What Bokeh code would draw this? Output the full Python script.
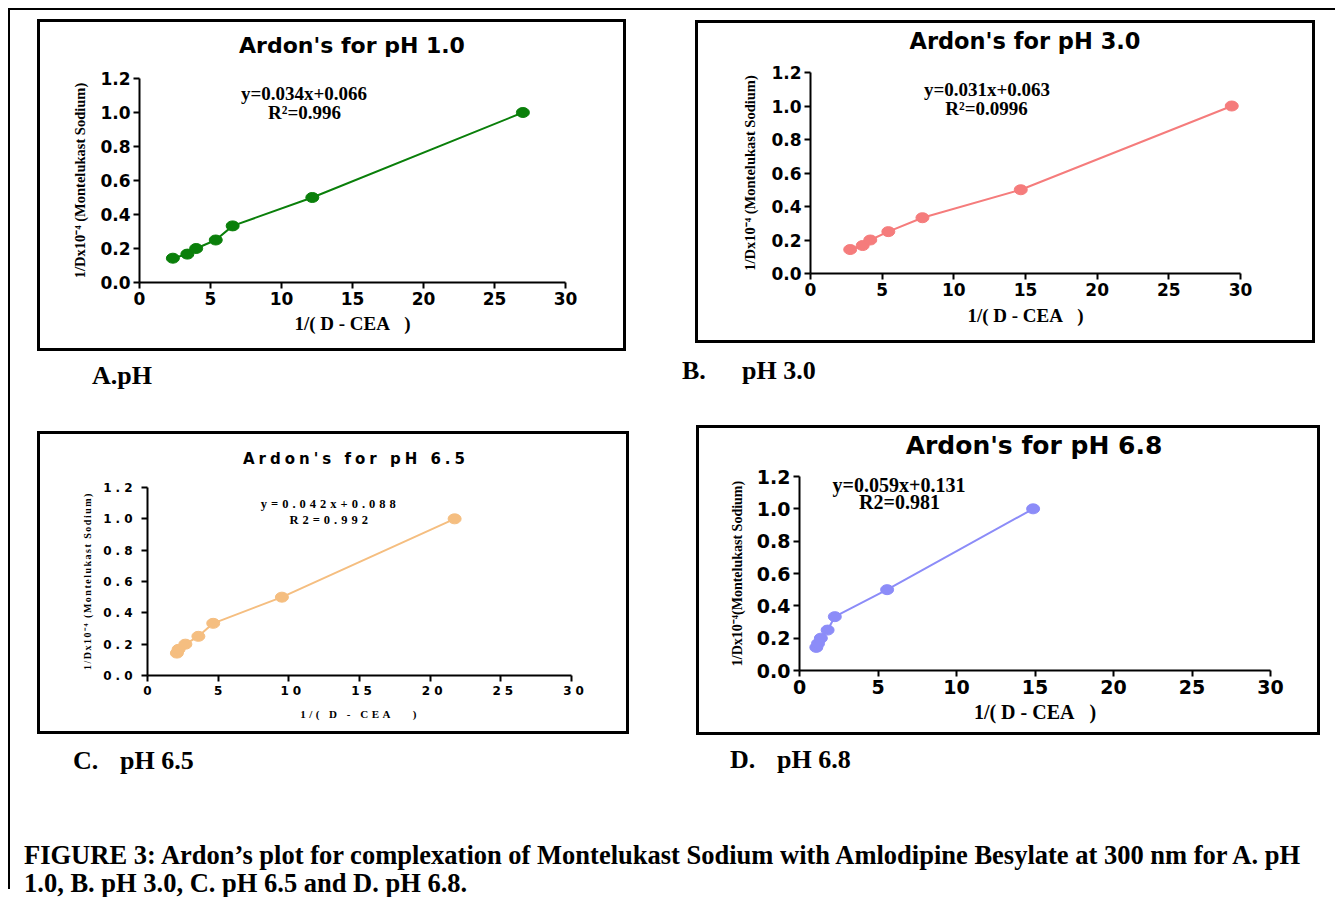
from bokeh.plotting import figure
from bokeh.layouts import column, row
from bokeh.models import Spacer, Div, Range1d, FixedTicker, PrintfTickFormatter, Label
from bokeh.embed import file_html
from bokeh.resources import INLINE

# ---------------- data ----------------
y_inv_d = [0.143, 0.167, 0.2, 0.25, 0.333, 0.5, 1.0]        # 1/D x10^-4 (Montelukast Sodium)
x_ph10 = [2.35, 3.37, 3.99, 5.37, 6.56, 12.17, 27.0]          # 1/(D - CEA), pH 1.0
x_ph30 = [2.77, 3.64, 4.17, 5.43, 7.81, 14.67, 29.39]         # pH 3.0
x_ph65 = [2.08, 2.20, 2.68, 3.60, 4.65, 9.51, 21.73]          # pH 6.5
x_ph68 = [1.07, 1.18, 1.36, 1.79, 2.25, 5.58, 14.88]          # pH 6.8
x_ticks = [0, 5, 10, 15, 20, 25, 30]
y_ticks = [0.0, 0.2, 0.4, 0.6, 0.8, 1.0, 1.2]
titles = ["Ardon's for pH 1.0", "Ardon's for pH 3.0", "Ardon's for pH 6.5", "Ardon's for pH 6.8"]
eq_line1 = ["y=0.034x+0.066", "y=0.031x+0.063", "y=0.042x+0.088", "y=0.059x+0.131"]
eq_line2 = ["R\u00b2=0.996", "R\u00b2=0.0996", "R2=0.992", "R2=0.981"]
y_labels = ["1/Dx10\u207b\u2074 (Montelukast Sodium)", "1/Dx10\u207b\u2074 (Montelukast Sodium)",
            "1/Dx10\u207b\u2074 (Montelukast Sodium)", "1/Dx10\u207b\u2074(Montelukast Sodium)"]
x_label = "1/( D - CEA\u00a0\u00a0\u00a0)"
colors = ["#0a7f0a", "#f57c7c", "#f5be80", "#8c8cf8"]
sub_labels = [[("A.pH", 55)], [("B.", 0), ("pH 3.0", 60)], [("C.", 36), ("pH 6.5", 83)], [("D.", 48), ("pH 6.8", 95)]]
caption_lines = ["FIGURE 3: Ardon\u2019s plot for complexation of Montelukast Sodium with Amlodipine Besylate at 300 nm for A. pH",
                 "1.0, B. pH 3.0, C. pH 6.5 and D. pH 6.8."]

SANS = "DejaVu Sans"
SERIF = "Liberation Serif"
Z = (0, 0, 0, 0)
BOX = {"border": "3px solid black", "box-sizing": "content-box", "background-color": "white"}


def text_div(w, h, t, cx, cy, font, size, ls=0.0, rotate=False):
    """A Div of w x h with one text centred at (cx, cy) inside it."""
    tr = "translate(-50%,-50%)" + (" rotate(-90deg)" if rotate else "")
    html = (f'<div style="position:relative;width:{w}px;height:{h}px;">'
            f'<span style="position:absolute;left:{cx}px;top:{cy}px;transform:{tr};white-space:nowrap;'
            f'font-family:\'{font}\';font-weight:bold;font-size:{size}px;line-height:{round(size * 1.2)}px;'
            f'letter-spacing:{ls}px;color:#000">{t}</span></div>')
    return Div(text=html, width=w, height=h, margin=Z)


def chart(i, xs, w, h, frame_px, borders, st, ls=0.0, with_axis_labels=True):
    fl, fr, ft, fb = frame_px
    fw, fh = fr - fl, fb - ft

    def dx(px):
        return (px - fl) / fw * 30.0

    def dy(py):
        return (fb - py) / fh * 1.2

    bl, br, bt, bb = borders
    p = figure(width=w, height=h, output_backend="svg", toolbar_location=None,
               x_range=Range1d(0, 30), y_range=Range1d(0, 1.2), title=None,
               min_border_left=bl, min_border_right=br, min_border_top=bt, min_border_bottom=bb,
               margin=Z)
    if ls:
        p.styles = {"letter-spacing": f"{ls}px"}
    p.outline_line_color = None
    p.grid.visible = False
    p.background_fill_color = "white"
    p.border_fill_color = "white"
    for ax in (p.xaxis[0], p.yaxis[0]):
        ax.axis_line_width = 2
        ax.axis_line_color = "black"
        ax.major_tick_in = 0
        ax.major_tick_out = 6
        ax.major_tick_line_width = 2
        ax.minor_tick_line_color = None
        ax.major_label_text_font = SANS
        ax.major_label_text_font_style = "bold"
        ax.major_label_text_font_size = st["tick"]
        ax.major_label_text_color = "black"
        ax.axis_label_text_font = SERIF
        ax.axis_label_text_font_style = "bold"
        ax.axis_label_text_color = "black"
    p.xaxis.ticker = FixedTicker(ticks=x_ticks)
    p.yaxis.ticker = FixedTicker(ticks=y_ticks)
    p.yaxis.formatter = PrintfTickFormatter(format="%.1f")
    p.xaxis.major_label_standoff = st["xstd"]
    p.yaxis.major_label_standoff = st["ystd"]
    if with_axis_labels:
        p.xaxis.axis_label = x_label
        p.yaxis.axis_label = y_labels[i]
        p.xaxis.axis_label_text_font_size = st["xlab"]
        p.yaxis.axis_label_text_font_size = st["ylab"]
        p.xaxis.axis_label_standoff = st["xlstd"]
        p.yaxis.axis_label_standoff = st["ylstd"]

    # letter-spacing is unknown to Bokeh's text measurement: shift centred texts back
    def comp(t):
        return (len(t) - 1) * ls / 2.0

    (e1x, e1y), (e2x, e2y) = st["eq_pos"]
    for t, ex, ey in ((eq_line1[i], e1x, e1y), (eq_line2[i], e2x, e2y)):
        p.add_layout(Label(x=dx(ex - comp(t)), y=dy(ey), text=t, text_align="center", text_baseline="middle",
                           text_font=SERIF, text_font_style="bold", text_font_size=st["eq"],
                           text_color="black"))

    p.line(xs, y_inv_d, line_color=colors[i], line_width=2)
    p.ellipse(xs, y_inv_d, width=st["mw"], height=st["mh"], width_units="screen", height_units="screen",
              fill_color=colors[i], line_color=colors[i])
    return p


# ---- A : box 37..626 x 19..351 (inner 40..623 x 22..348)
stA = dict(tick="17px", xlab="19px", ylab="14.5px", xstd=3, ystd=3, xlstd=5, ylstd=9,
           eq="19px", mw=13, mh=10, eq_pos=((303.5, 93), (304, 112)))
tA = text_div(583, 40, titles[0], 352 - 40, 46 - 22, SANS, 22)
figA = chart(0, x_ph10, 583, 286, (139, 565, 78, 282), (99, 58, 16, 66), stA)
boxA = column(tA, figA, margin=Z, styles=BOX)

# ---- B : box 695..1315 x 20..343 (inner 698..1312 x 23..340)
stB = dict(stA)
stB.update(xlstd=6, ylstd=10, eq_pos=((986.5, 89), (986, 108)))
tB = text_div(614, 36, titles[1], 1025 - 698, 41 - 23, SANS, 22.5)
figB = chart(1, x_ph30, 614, 281, (810, 1240, 72, 273), (112, 72, 13, 67), stB)
boxB = column(tB, figB, margin=Z, styles=BOX)

# ---- C : box 37..629 x 431..734 (inner 40..626 x 434..731)
stC = dict(tick="12px", xstd=4, ystd=17, eq="12.5px", mw=13, mh=10, eq_pos=((326.5, 503), (327, 519)))
yC = text_div(60, 297, y_labels[2], 88 - 40, 581 - 434, SERIF, 10, ls=1.5, rotate=True)
tC = text_div(526, 38, titles[2], 356 - 100, 459 - 434, SANS, 15, ls=4)
figC = chart(2, x_ph65, 526, 230, (145, 571, 487, 675), (45, 55, 15, 27), stC, ls=4, with_axis_labels=False)
xC = text_div(526, 29, x_label, 360 - 100, 714 - 702, SERIF, 11, ls=3.5)
boxC = row(yC, column(tC, figC, xC, margin=Z), margin=Z, styles=BOX)

# ---- D : box 696..1320 x 425..735 (inner 699..1317 x 428..732)
stD = dict(stA)
stD.update(tick="19px", xlab="20px", ylab="14px", xlstd=4, ylstd=9, eq="20px",
           eq_pos=((898.5, 484), (899, 501)))
tD = text_div(618, 34, titles[3], 1034 - 699, 446 - 428, SANS, 25)
figD = chart(3, x_ph68, 618, 270, (799, 1270, 476, 670), (100, 47, 14, 62), stD)
boxD = column(tD, figD, margin=Z, styles=BOX)


def sublabel(w, h, parts, top):
    spans = "".join(
        f'<span style="position:absolute;left:{x}px;top:{top}px;white-space:nowrap">{t}</span>'
        for t, x in parts)
    html = (f'<div style="position:relative;width:{w}px;height:{h}px;font-family:\'{SERIF}\',serif;'
            f'font-weight:bold;font-size:26px;line-height:30px;color:#000">{spans}</div>')
    return Div(text=html, width=w, height=h, margin=Z)


labA = sublabel(592, 80, sub_labels[0], 10)
labC = sublabel(592, 56, sub_labels[2], 12)
labB = sublabel(638, 82, sub_labels[1], 13)
labD = sublabel(638, 55, sub_labels[3], 10)

left_col = column(Spacer(width=592, height=9, margin=Z), boxA, labA, boxC, labC, margin=Z)
right_col = column(Spacer(width=638, height=10, margin=Z),
                   row(Spacer(width=13, height=1, margin=Z), boxB, margin=Z),
                   labB,
                   row(Spacer(width=14, height=1, margin=Z), boxD, margin=Z),
                   labD, margin=Z)
main_row = row(Spacer(width=27, height=1, margin=Z), left_col,
               Spacer(width=53, height=1, margin=Z), right_col,
               Spacer(width=15, height=1, margin=Z), margin=Z)

cap_html = (f'<div style="width:1325px;height:99px;box-sizing:border-box;padding-top:51px;padding-left:14px;'
            f'font-family:\'{SERIF}\',serif;font-weight:bold;font-size:26.5px;line-height:28px;'
            f'white-space:nowrap;color:#000">' + "<br>".join(caption_lines) + '</div>')
caption = Div(text=cap_html, width=1325, height=99, margin=Z)

page = column(main_row, caption, margin=(8, 0, 0, 8),
              styles={"border-top": "2px solid black", "border-left": "2px solid black"})

open("out.html", "w").write(file_html(page, INLINE))
